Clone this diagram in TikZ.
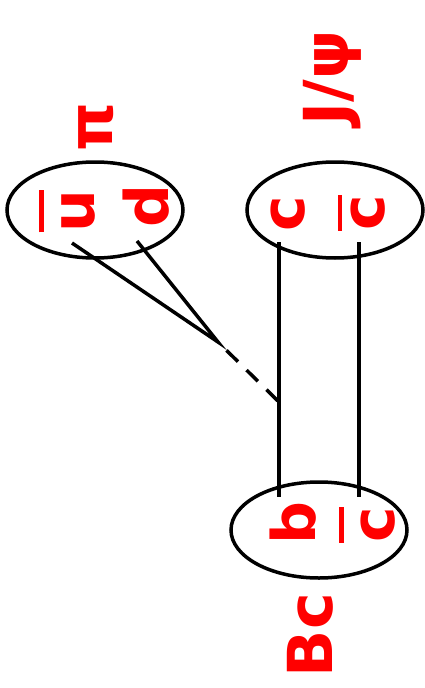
\documentclass[tikz,border=0pt]{standalone}
\usepackage{fontspec}
\setmainfont{DejaVu Sans}
\usetikzlibrary{shapes.geometric,calc}

\newcommand{\qbar}[2]{\vbox{\hrule height 4.5pt\kern#1\hbox{#2}}}

\begin{document}
\begin{tikzpicture}[
    x=1pt, y=-1pt,
    hadron/.style={
        draw,
        ellipse,
        line width=3.5pt,
        minimum width=176pt,
        minimum height=96pt,
        inner sep=0pt
    },
    quark/.style={
        text=red,
        rotate=90,
        inner sep=0pt,
        font=\fontsize{60}{70}\selectfont\bfseries
    },
    hadname/.style={
        text=red,
        rotate=90,
        inner sep=0pt,
        font=\fontsize{62}{72}\selectfont\bfseries
    },
    qline/.style={line width=3.5pt}
]
\useasboundingbox (0,0) rectangle (425,688);

\node[hadron] (pi) at (95,210) {};
\node[hadron] (jpsi) at (335,210) {};
\node[hadron] (bc) at (319,530) {};

\node[quark] (ubar) at (67.5,211) {\qbar{18pt}{u}};
\node[quark] (d) at (146,206) {d};
\node[quark] (c) at (288.5,213.5) {c};
\node[quark] (cbar) at (361.5,213) {\qbar{9pt}{c}};
\node[quark] (b) at (293,523) {b};
\node[quark] (cbarb) at (367,525) {\qbar{17pt}{c}};

\node[hadname] (pilab) at (96,127) {π};
\node[hadname] (jpsilab) at (332.5,78) {J/ψ};
\node[hadname] (bclab) at (310,635) {Bc};

% quark line ends
\coordinate (c-out) at ($(c)+(-9.5,28.5)$);
\coordinate (b-in) at ($(b)+(-14,-26)$);
\coordinate (cbar-out) at ($(cbar)+(-2.5,29)$);
\coordinate (cbarb-in) at ($(cbarb)+(-8,-28)$);
\coordinate (ubar-in) at ($(ubar)+(4.5,32)$);
\coordinate (d-in) at ($(d)+(-9,35)$);
\coordinate (vert) at (218,342);
\coordinate (gluon) at (279,402);

\draw[qline] (c-out) -- (b-in);
\draw[qline] (cbar-out) -- (cbarb-in);
\draw[qline] (ubar-in) -- (vert) -- (d-in);
\draw[qline, dash pattern=on 16pt off 12pt, dash phase=16pt] (vert) -- (gluon);

\end{tikzpicture}
\end{document}
